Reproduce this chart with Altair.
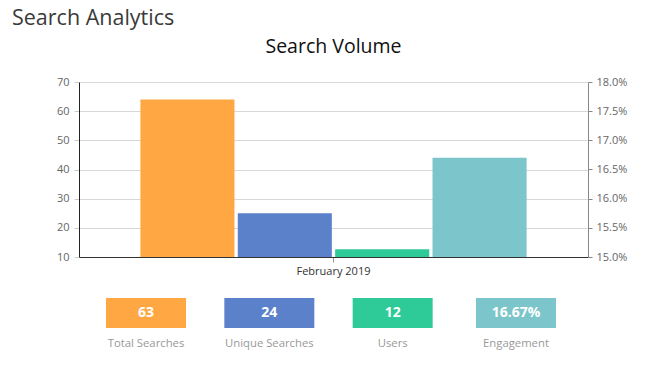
import altair as alt
import pandas as pd

# ---- data ----
month = ["February 2019"]
series = ["Total Searches", "Unique Searches", "Users", "Engagement"]
left_values = [64, 25, 12.7]          # Total Searches, Unique Searches, Users (left axis)
engagement_values = [0.1670]          # Engagement (right axis, %)
card_values = ["63", "24", "12", "16.67%"]
colors = ["#FFA843", "#5C81CB", "#2ECA98", "#7CC5CA"]
left_ticks = [10, 20, 30, 40, 50, 60, 70]
right_ticks = [0.15, 0.155, 0.16, 0.165, 0.17, 0.175, 0.18]
page_title = ["Search Analytics"]
chart_title = ["Search Volume"]

FONT = "Open Sans"

left_df = pd.DataFrame({"month": month * 3, "series": series[:3], "value": left_values})
eng_df = pd.DataFrame({"month": month, "series": series[3:], "value": engagement_values})
card_df = pd.DataFrame({"series": series, "text": card_values})
title_df = pd.DataFrame({"t": page_title})
ctitle_df = pd.DataFrame({"t": chart_title})

color = alt.Color("series:N", scale=alt.Scale(domain=series, range=colors), legend=None)
xoff = alt.XOffset("series:N", scale=alt.Scale(domain=series, paddingInner=0.034, paddingOuter=0))
xscale = alt.Scale(domain=month, paddingInner=0, paddingOuter=0.159)
xaxis = alt.Axis(title=None, labelAngle=0, labelFont=FONT, labelFontSize=11,
                 labelColor="#333333", domainColor="#333333", tickColor="#999999",
                 tickSize=5, labelPadding=3, grid=False)

left_bars = alt.Chart(left_df).mark_bar(clip=True).encode(
    x=alt.X("month:N", scale=xscale, axis=xaxis),
    xOffset=xoff,
    y=alt.Y("value:Q", scale=alt.Scale(domain=[10, 70], zero=False, nice=False),
            axis=alt.Axis(title=None, values=left_ticks, labelFont=FONT, labelFontSize=11,
                          labelColor="#666666", domainColor="#222222", domainWidth=1,
                          tickColor="#cccccc", tickSize=5, labelPadding=5,
                          gridColor="#d8d8d8")),
    color=color,
)

eng_bars = alt.Chart(eng_df).mark_bar(clip=True).encode(
    x=alt.X("month:N", scale=xscale, axis=xaxis),
    xOffset=xoff,
    y=alt.Y("value:Q", scale=alt.Scale(domain=[0.15, 0.18], zero=False, nice=False),
            axis=alt.Axis(title=None, orient="right", format=".1%", values=right_ticks,
                          labelFont=FONT, labelFontSize=11, labelColor="#666666",
                          domainColor="#888888", tickColor="#888888", tickSize=4,
                          labelPadding=4, grid=False)),
    color=color,
)

bars = alt.layer(left_bars, eng_bars).resolve_scale(y="independent")

card_x = alt.X("series:N", scale=alt.Scale(type="band", domain=series, range=[27, 477],
                                            paddingInner=0.351, paddingOuter=0), axis=None)

cards = alt.Chart(card_df).mark_bar().encode(
    x=card_x,
    y=alt.value(216), y2=alt.value(246),
    size=alt.condition(alt.datum.series == "Unique Searches", alt.value(90), alt.value(80)),
    color=color,
)
card_nums = alt.Chart(card_df).mark_text(font=FONT, fontSize=14, fontWeight="bold",
                                         color="white", baseline="middle").encode(
    x=card_x, y=alt.value(231), text="text:N")
card_labels = alt.Chart(card_df).mark_text(font=FONT, fontSize=11.3, color="#999999",
                                           baseline="middle").encode(
    x=card_x, y=alt.value(262), text="series:N")

page_title_mark = alt.Chart(title_df).mark_text(font=FONT, fontSize=21.5, color="#3a3a3a",
                                                align="left", baseline="alphabetic").encode(
    x=alt.value(-67), y=alt.value(-57.5), text="t:N")
chart_title_mark = alt.Chart(ctitle_df).mark_text(font=FONT, fontSize=19.5, color="#111111",
                                                  align="center", baseline="alphabetic").encode(
    x=alt.value(254.5), y=alt.value(-29.5), text="t:N")

chart = alt.layer(bars, cards, card_nums, card_labels, page_title_mark, chart_title_mark).resolve_scale(
    x="independent"
).properties(
    width=509, height=175,
    autosize=alt.AutoSizeParams(type="none"),
    padding={"left": 71, "top": 74, "right": 65, "bottom": 100},
).configure_view(stroke=None)

chart.save("out.html", embed_options={"renderer": "svg", "actions": False})
